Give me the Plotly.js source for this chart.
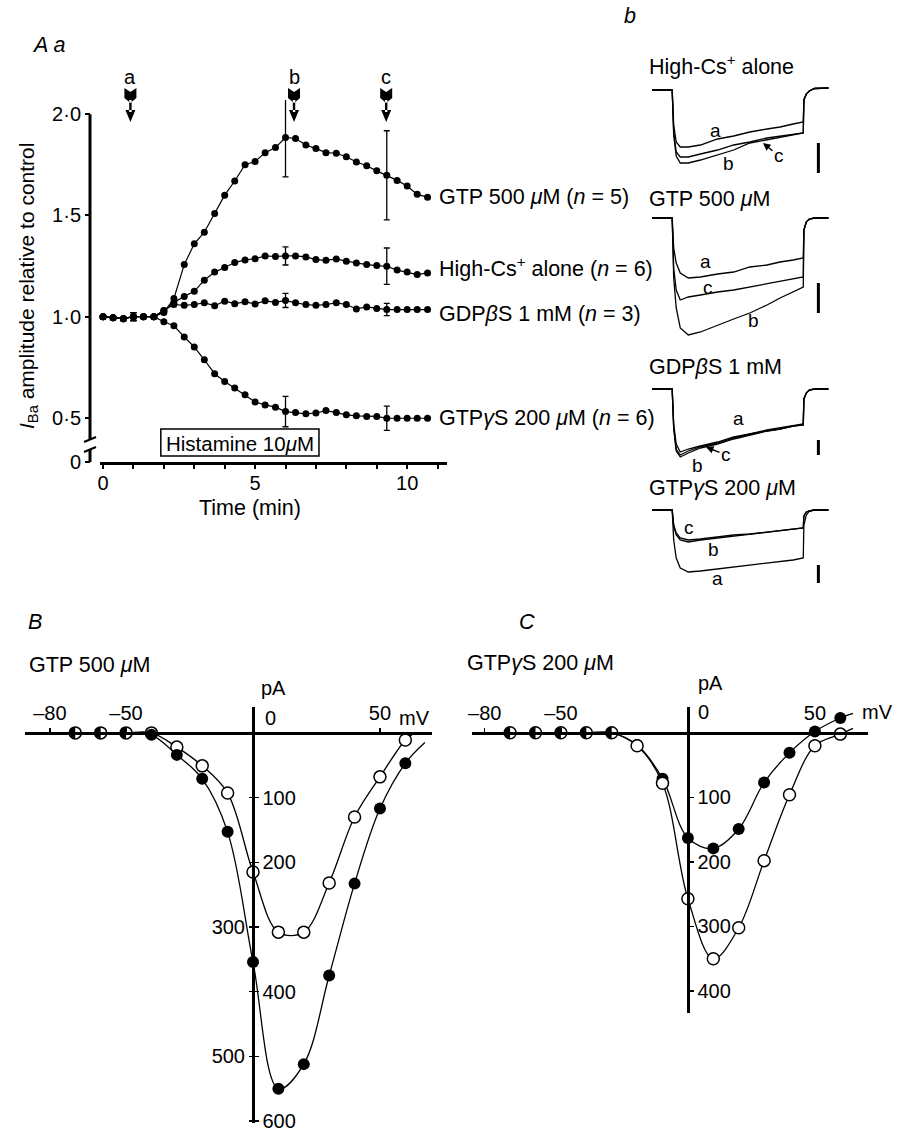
<!DOCTYPE html>
<html>
<head>
<meta charset="utf-8">
<script src="https://cdn.plot.ly/plotly-3.0.1.min.js"></script>
<style>html,body{margin:0;padding:0;background:#fff;}#chart{width:901px;height:1131px;}</style>
</head>
<body>
<div id="chart"></div>
<script>
// ---------------- DATA ----------------
// Panel Aa: time course (min) of I_Ba relative to control
const timeMin = [0,0.33,0.67,1,1.33,1.67,2,2.33,2.67,3,3.33,3.67,4,4.33,4.67,5,5.33,5.67,6,6.33,6.67,7,7.33,7.67,8,8.33,8.67,9,9.33,9.67,10,10.33,10.67];
const gtp500 = [1.00,0.995,0.99,1.00,1.00,1.00,1.02,1.09,1.257,1.36,1.417,1.51,1.60,1.67,1.75,1.766,1.81,1.835,1.885,1.88,1.848,1.83,1.81,1.807,1.79,1.764,1.745,1.72,1.698,1.673,1.645,1.604,1.59];
const highCs = [1.00,0.995,0.99,1.00,1.00,1.00,1.03,1.07,1.10,1.125,1.18,1.22,1.243,1.267,1.28,1.286,1.30,1.297,1.30,1.30,1.295,1.282,1.278,1.285,1.274,1.265,1.257,1.252,1.249,1.23,1.22,1.208,1.216];
const gdpBS = [1.00,0.995,0.99,1.00,1.00,1.00,1.03,1.06,1.056,1.06,1.068,1.054,1.076,1.064,1.073,1.063,1.078,1.07,1.08,1.068,1.06,1.056,1.06,1.068,1.06,1.038,1.048,1.04,1.035,1.035,1.035,1.035,1.035];
const gtpGS = [1.00,0.995,0.99,1.00,1.00,1.00,0.975,0.955,0.90,0.85,0.787,0.718,0.68,0.647,0.614,0.578,0.564,0.553,0.531,0.526,0.52,0.524,0.536,0.526,0.515,0.51,0.507,0.507,0.498,0.498,0.498,0.498,0.498];
const errIndex = [3, 18, 28];
const gtp500Err = [0.02, 0.195, 0.22];
const highCsErr = [0.02, 0.045, 0.09];
const gdpBSErr = [0.02, 0.035, 0.03];
const gtpGSErr = [0.02, 0.075, 0.06];
const seriesLabels = ['GTP 500 <i>μ</i>M (<i>n</i> = 5)', 'High-Cs<sup>+</sup> alone (<i>n</i> = 6)', 'GDP<i>β</i>S 1 mM (<i>n</i> = 3)', 'GTP<i>γ</i>S 200 <i>μ</i>M (<i>n</i> = 6)'];
const sampleTimes = [0.9, 6.28, 9.31];
const sampleLabels = ['a', 'b', 'c'];
const histamineWindow = [1.9, 7.1];
const yTickVals = [0.282, 0.5, 1.0, 1.5, 2.0];
const yTickText = ['0', '0·5', '1·0', '1·5', '2·0'];
const xTickVals = [0, 5, 10];
const xMinorTickVals = [1,2,3,4,6,7,8,9,11];

// Panel b: current sweeps (relative current, baseline = 0), time in ms
const sweepTime = [-20, 0, 1.5, 4, 8, 16, 28, 45, 61, 77, 94, 107, 120, 130, 130.6, 133, 136, 141, 155];
const hcA = [0,0,-35,-52,-57,-57,-55,-49,-46,-42,-39,-37,-34,-32,-10,-4,-1,1.5,2];
const hcB = [0,0,-45,-66,-73,-73,-70,-65,-60,-53,-50,-47,-45,-43,-10,-4,-1,1.5,2];
const hcC = [0,0,-42,-62,-67,-67,-64,-60,-55,-52,-48,-46,-44,-43,-10,-4,-1,1.5,2];
const gtA = [0,0,-30,-45,-55,-60,-59,-56,-54,-49,-47,-44,-42,-40,-12,-4,-1,0,0];
const gtC = [0,0,-50,-72,-82,-79,-77,-74,-72,-69,-66,-64,-61,-59,-12,-4,-1,0,0];
const gtB = [0,0,-60,-90,-110,-117,-114,-107,-101,-95,-87,-80,-74,-69,-12,-4,-1,0,0];
const gdA = [0,0,-35,-55,-63,-60,-57,-53,-48,-45,-41,-39,-37,-35,-10,-4,-1,0,0];
const gdB = [0,0,-40,-62,-68,-64,-59,-55,-50,-46,-42,-40,-37,-36,-10,-4,-1,0,0];
const gdC = [0,0,-38,-60,-66,-62,-58,-54,-49,-45,-42,-40,-37,-36,-10,-4,-1,0,0];
const gsA = [0,0,-30,-48,-58,-62,-61,-59,-57,-55,-53,-51,-50,-48,-15,-5,-1,0,0];
const gsB = [0,0,-16,-25,-30,-32,-30,-28,-26,-24,-22,-21,-19,-18,-6,-2,-1,0,0];
const gsC = [0,0,-15,-23,-28,-30,-29,-27,-25,-24,-22,-21,-19,-18,-6,-2,-1,0,0];
const sweepTitles = ['High-Cs<sup>+</sup> alone', 'GTP 500 <i>μ</i>M', 'GDP<i>β</i>S 1 mM', 'GTP<i>γ</i>S 200 <i>μ</i>M'];
const scaleBars = [[-53,-83],[-65,-95],[-51,-66],[-55,-73]];

// Panels B & C: I-V relations (mV, pA inward plotted downward)
const ivVoltage = [-70,-60,-50,-40,-30,-20,-10,0,10,20,30,40,50,60];
const bControl = [0,0,0,0,22,51,93,215,308,308,232,130,68,11];
const bHistamine = [0,0,0,3,34,71,153,354,550,512,375,233,117,47];
const bControlFitEnd = [[62.6],[3]];
const bHistamineFitEnd = [[67.7],[15]];
const cControl = [0,0,0,0,0,20,78,257,350,302,198,96,20,2];
const cHistamine = [0,0,0,0,0,19,71,163,179,149,77,31,-2,-23];
const cControlFitEnd = [[65],[-7]];
const cHistamineFitEnd = [[65],[-30]];
const ivXTickVals = [-80,-50,50];
const ivXTickText = ['–80','–50','50'];
const bRightTicks = [100,200,400,600];
const bLeftTicks = [300,500];
const cTicks = [100,200,300,400];

// ---------------- LAYOUT HELPERS ----------------
const W = 901, H = 1131;
const fx = p => p / W;
const fy = p => 1 - p / H;
const FONT = 'Liberation Sans, Arial, Helvetica, sans-serif';
const TXT = 21.5;
const TICK = 19;
const SMALL = 19;

const traces = [];
const shapes = [];
const annotations = [];

function ann(text, x, y, opts) {
  annotations.push(Object.assign({text: text, x: fx(x), y: fy(y), xref: 'paper', yref: 'paper', showarrow: false, xanchor: 'center', yanchor: 'middle', font: {size: TXT, family: FONT, color: 'black'}}, opts || {}));
}

// ---------- Panel Aa ----------
const aaSeries = [[gtp500, gtp500Err], [highCs, highCsErr], [gdpBS, gdpBSErr], [gtpGS, gtpGSErr]];
aaSeries.forEach(([vals, errs]) => {
  traces.push({x: timeMin, y: vals, xaxis: 'x', yaxis: 'y', mode: 'lines+markers', cliponaxis: false,
    line: {color: 'black', width: 1.2}, marker: {color: 'black', size: 7}, hoverinfo: 'skip'});
  traces.push({x: errIndex.map(i => timeMin[i]), y: errIndex.map(i => vals[i]), xaxis: 'x', yaxis: 'y', mode: 'markers', cliponaxis: false,
    marker: {color: 'black', size: 2}, error_y: {type: 'data', array: errs, visible: true, color: 'black', thickness: 1.3, width: 3}, hoverinfo: 'skip'});
});
// series labels at right
const labelY = [197, 267, 314, 418];
seriesLabels.forEach((t, i) => ann(t, 437, labelY[i], {xanchor: 'left'}));
// y axis line (broken)
shapes.push({type: 'line', xref: 'paper', yref: 'y', x0: fx(90), x1: fx(90), y0: 2.0, y1: 0.395, line: {color: 'black', width: 3}});
shapes.push({type: 'line', xref: 'paper', yref: 'paper', x0: fx(90), x1: fx(90), y0: fy(449), y1: fy(462), line: {color: 'black', width: 3}});
shapes.push({type: 'line', xref: 'paper', yref: 'paper', x0: fx(84), x1: fx(96), y0: fy(442), y1: fy(437), line: {color: 'black', width: 2}});
shapes.push({type: 'line', xref: 'paper', yref: 'paper', x0: fx(84), x1: fx(96), y0: fy(452), y1: fy(447), line: {color: 'black', width: 2}});
// sample arrows
sampleTimes.forEach((t, i) => {
  shapes.push({type: 'path', xref: 'x', yref: 'paper', xsizemode: 'pixel', ysizemode: 'pixel', xanchor: t, yanchor: fy(88),
    path: 'M -6,0 L 0,-4 L 6,0 L 6,-10 L 0,-15 L -6,-10 Z M -1.2,-12 L 1.2,-12 L 1.2,-24 L -1.2,-24 Z M -5,-22 L 5,-22 L 0,-34 Z',
    fillcolor: 'black', line: {width: 0}});
  annotations.push({text: sampleLabels[i], x: t, xref: 'x', y: fy(64), yref: 'paper', showarrow: false, font: {size: SMALL + 1, family: FONT}});
});
// histamine bar
shapes.push({type: 'rect', xref: 'x', yref: 'paper', x0: histamineWindow[0], x1: histamineWindow[1], y0: fy(456), y1: fy(429), line: {color: 'black', width: 1.5}, fillcolor: 'white', layer: 'below'});
annotations.push({text: 'Histamine 10<i>μ</i>M', x: (histamineWindow[0] + histamineWindow[1]) / 2, xref: 'x', y: fy(443), yref: 'paper', showarrow: false, font: {size: 20.5, family: FONT}});
ann('<i>A a</i>', 30, 45, {xanchor: 'left'});
ann('Time (min)', 250, 508);
ann('<i>I</i><sub>Ba</sub> amplitude relative to control', 28, 286, {textangle: -90, font: {size: 21, family: FONT}});

// ---------- Panel b: sweeps ----------
const sweepSets = [[hcA, hcB, hcC], [gtA, gtC, gtB], [gdA, gdB, gdC], [gsA, gsB, gsC]];
sweepSets.forEach((set, p) => {
  const xa = 'x' + (p + 2), ya = 'y' + (p + 2);
  set.forEach(v => traces.push({x: sweepTime, y: v, xaxis: xa, yaxis: ya, mode: 'lines', line: {color: 'black', width: 1.3}, hoverinfo: 'skip'}));
  shapes.push({type: 'line', xref: xa, yref: ya, x0: 145, x1: 145, y0: scaleBars[p][0], y1: scaleBars[p][1], line: {color: 'black', width: 3}});
});
ann('<i>b</i>', 630, 16);
const titleY = [65, 199, 367, 488];
sweepTitles.forEach((t, i) => ann(t, 647, titleY[i], {xanchor: 'left'}));
const sf = {size: SMALL, family: FONT, color: 'black'};
ann('a', 715, 131, {font: sf});
ann('b', 728, 163, {font: sf});
annotations.push({text: 'c', x: fx(763), y: fy(143), xref: 'paper', yref: 'paper', ax: 16, ay: 13, showarrow: true, arrowhead: 2, arrowsize: 1, arrowwidth: 1.5, arrowcolor: 'black', font: sf});
ann('a', 705, 262, {font: sf});
ann('c', 708, 287, {font: sf});
ann('b', 753, 320, {font: sf});
ann('a', 738, 418, {font: sf});
ann('b', 697, 465, {font: sf});
annotations.push({text: 'c', x: fx(706), y: fy(447), xref: 'paper', yref: 'paper', ax: 20, ay: 8, showarrow: true, arrowhead: 2, arrowsize: 1, arrowwidth: 1.5, arrowcolor: 'black', font: sf});
ann('c', 689, 527, {font: sf});
ann('b', 713, 550, {font: sf});
ann('a', 717, 578, {font: sf});

// ---------- Panels B & C ----------
const halfDisk = 'M 0,6 C -3.31,6 -6,3.31 -6,0 C -6,-3.31 -3.31,-6 0,-6 Z';
function ivPanel(ctrl, hist, ctrlEnd, histEnd, xa, yaCtrl, yaHist, histFirst) {
  const same = ctrl.map((v, i) => v === hist[i]);
  const ctrlLine = {x: ivVoltage.concat(ctrlEnd[0]), y: ctrl.concat(ctrlEnd[1]), xaxis: xa, yaxis: yaCtrl, mode: 'lines', line: {color: 'black', width: 1.3, shape: 'spline', smoothing: 1}, hoverinfo: 'skip', cliponaxis: false};
  const ctrlPts = {x: ivVoltage, y: ctrl, xaxis: xa, yaxis: yaCtrl, mode: 'markers', cliponaxis: false, marker: {color: 'white', size: 12, line: {color: 'black', width: 1.5}}, hoverinfo: 'skip'};
  const histLine = {x: ivVoltage.concat(histEnd[0]), y: hist.concat(histEnd[1]), xaxis: xa, yaxis: yaHist, mode: 'lines', line: {color: 'black', width: 1.3, shape: 'spline', smoothing: 1}, hoverinfo: 'skip', cliponaxis: false};
  const histPts = {x: ivVoltage, y: hist, xaxis: xa, yaxis: yaHist, mode: 'markers', cliponaxis: false, marker: {color: 'black', size: 12, opacity: same.map(s => s ? 0 : 1)}, hoverinfo: 'skip'};
  if (histFirst) traces.push(histLine, ctrlLine, histPts, ctrlPts);
  else traces.push(ctrlLine, histLine, ctrlPts, histPts);
  ivVoltage.forEach((v, i) => {
    if (same[i]) shapes.push({type: 'path', xref: xa, yref: yaCtrl, xsizemode: 'pixel', ysizemode: 'pixel', xanchor: v, yanchor: ctrl[i], path: halfDisk, fillcolor: 'black', line: {width: 0}, layer: 'above'});
  });
}
ivPanel(bControl, bHistamine, bControlFitEnd, bHistamineFitEnd, 'x6', 'y6', 'y7', false);
ivPanel(cControl, cHistamine, cControlFitEnd, cHistamineFitEnd, 'x8', 'y8', 'y8', true);

ann('<i>B</i>', 35, 622);
ann('GTP 500 <i>μ</i>M', 27, 665, {xanchor: 'left'});
const tf = {size: TICK + 1, family: FONT, color: 'black'};
ann('pA', 273, 688, {font: tf});
ann('0', 270, 718, {font: tf});
ann('mV', 397, 718, {xanchor: 'left', font: tf});
ann('<i>C</i>', 527, 622);
ann('GTP<i>γ</i>S 200 <i>μ</i>M', 465, 663, {xanchor: 'left'});
ann('pA', 710, 683, {font: tf});
ann('0', 703, 712, {font: tf});
ann('mV', 877, 712, {font: tf});

// ---------------- AXES ----------------
const hidden = r => ({visible: false, range: r, fixedrange: true});
const baseAx = {showgrid: false, zeroline: false, color: 'black', linecolor: 'black', tickcolor: 'black', tickfont: {size: TICK, family: FONT, color: 'black'}, fixedrange: true, ticklabeloverflow: 'allow'};
const minorTicks = (vals, len, w) => ({tickmode: 'array', tickvals: vals, ticks: 'outside', ticklen: len, tickwidth: w, tickcolor: 'black', showgrid: false});
const layout = {
  width: W, height: H, autosize: false,
  margin: {l: 0, r: 0, t: 0, b: 0},
  paper_bgcolor: 'white', plot_bgcolor: 'rgba(0,0,0,0)',
  showlegend: false,
  font: {family: FONT, color: 'black', size: TICK},
  xaxis: Object.assign({}, baseAx, {domain: [fx(100), fx(447)], range: [-0.1, 11.31], anchor: 'y', showline: true, linewidth: 3, ticks: 'outside', ticklen: 4, tickwidth: 2, tickmode: 'array', tickvals: xTickVals, minor: minorTicks(xMinorTickVals, 4, 2), ticklabelstandoff: -3, tickfont: {size: TICK + 1, family: FONT, color: 'black'}}),
  yaxis: Object.assign({}, baseAx, {domain: [fy(462), fy(100)], range: [0.282, 2.07], anchor: 'free', position: fx(90), showline: false, ticks: 'outside', ticklen: 5, tickwidth: 2, tickmode: 'array', tickvals: yTickVals, ticktext: yTickText, tickfont: {size: TICK + 1, family: FONT, color: 'black'}}),
  xaxis2: Object.assign(hidden([-22, 158.5]), {domain: [fx(650), fx(832)], anchor: 'y2'}),
  yaxis2: Object.assign(hidden([-90, 10]), {domain: [fy(180), fy(80)], anchor: 'x2'}),
  xaxis3: Object.assign(hidden([-22, 158.5]), {domain: [fx(650), fx(832)], anchor: 'y3'}),
  yaxis3: Object.assign(hidden([-127, 10]), {domain: [fy(345), fy(208)], anchor: 'x3'}),
  xaxis4: Object.assign(hidden([-22, 158.5]), {domain: [fx(650), fx(832)], anchor: 'y4'}),
  yaxis4: Object.assign(hidden([-81, 10]), {domain: [fy(470), fy(379)], anchor: 'x4'}),
  xaxis5: Object.assign(hidden([-22, 158.5]), {domain: [fx(650), fx(832)], anchor: 'y5'}),
  yaxis5: Object.assign(hidden([-80, 10]), {domain: [fy(590), fy(500)], anchor: 'x5'}),
  xaxis6: Object.assign({}, baseAx, {domain: [fx(25), fx(432)], range: [-89.8, 70.5], anchor: 'free', position: fy(733), side: 'top', showline: true, linewidth: 2.5, ticks: 'outside', ticklen: 4, tickwidth: 1.5, tickmode: 'array', tickvals: ivXTickVals, ticktext: ivXTickText, tickfont: tf}),
  yaxis6: Object.assign({}, baseAx, {domain: [fy(1123), fy(707)], range: [603, -40], anchor: 'free', position: fx(253), side: 'right', showline: true, linewidth: 2.5, ticks: 'outside', ticklen: 4, tickwidth: 1.5, tickmode: 'array', tickvals: bRightTicks, minor: minorTicks(bLeftTicks, 4, 1.5), tickfont: tf}),
  yaxis7: Object.assign({}, baseAx, {domain: [fy(1123), fy(707)], range: [603, -40], anchor: 'free', position: fx(253), overlaying: 'y6', side: 'left', showline: false, ticks: 'outside', ticklen: 4, tickwidth: 1.5, tickmode: 'array', tickvals: bLeftTicks, minor: minorTicks(bRightTicks, 4, 1.5), tickfont: tf}),
  xaxis8: Object.assign({}, baseAx, {domain: [fx(472), fx(868)], range: [-85, 70.9], anchor: 'free', position: fy(733), side: 'top', showline: true, linewidth: 2.5, ticks: 'outside', ticklen: 4, tickwidth: 1.5, tickmode: 'array', tickvals: ivXTickVals, ticktext: ivXTickText, tickfont: tf}),
  yaxis8: Object.assign({}, baseAx, {domain: [fy(1013), fy(707)], range: [434, -40], anchor: 'free', position: fx(688), side: 'right', showline: true, linewidth: 2.5, ticks: 'outside', ticklen: 4, tickwidth: 1.5, tickmode: 'array', tickvals: cTicks, tickfont: tf}),
  shapes: shapes,
  annotations: annotations
};
Plotly.newPlot('chart', traces, layout, {staticPlot: true, displayModeBar: false});
</script>
</body>
</html>
